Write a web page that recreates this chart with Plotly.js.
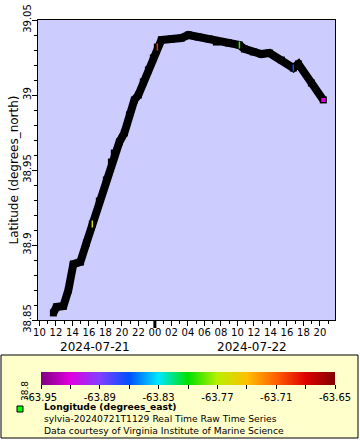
<!DOCTYPE html>
<html>
<head>
<meta charset="utf-8">
<script src="https://cdn.plot.ly/plotly-3.0.1.min.js"></script>
<style>html,body{margin:0;padding:0;background:#fff;}#chart{width:360px;height:440px;}</style>
</head>
<body>
<div id="chart"></div>
<script>
// ---- data ----
const times = [
  '2024-07-21 11:42','2024-07-21 12:04','2024-07-21 12:55','2024-07-21 13:31','2024-07-21 14:07',
  '2024-07-21 14:58','2024-07-21 15:42','2024-07-21 16:25','2024-07-21 17:16','2024-07-21 18:07',
  '2024-07-21 18:44','2024-07-21 19:05','2024-07-21 19:42','2024-07-21 20:18','2024-07-21 20:55',
  '2024-07-21 21:31','2024-07-21 22:00','2024-07-21 22:36','2024-07-21 23:13','2024-07-21 23:49',
  '2024-07-22 00:18','2024-07-22 00:47','2024-07-22 02:00','2024-07-22 03:13','2024-07-22 04:04',
  '2024-07-22 05:16','2024-07-22 06:36','2024-07-22 07:27','2024-07-22 08:55','2024-07-22 10:15',
  '2024-07-22 10:51','2024-07-22 11:56','2024-07-22 12:54','2024-07-22 13:53','2024-07-22 15:20',
  '2024-07-22 16:47','2024-07-22 17:24','2024-07-22 18:58','2024-07-22 20:25'
];
const latitude = [
  38.8547,38.8587,38.8593,38.8700,38.8873,38.8887,38.9013,38.9140,38.9293,38.9433,
  38.9553,38.9613,38.9687,38.9747,38.9867,38.9967,39.0000,39.0087,39.0167,39.0247,
  39.0320,39.0367,39.0373,39.0380,39.0400,39.0387,39.0373,39.0353,39.0347,39.0333,
  39.0307,39.0287,39.0273,39.0280,39.0233,39.0180,39.0207,39.0080,38.9967
];
const longitude = [
  -63.800,-63.797,-63.792,-63.788,-63.782,-63.776,-63.768,-63.758,-63.752,-63.745,
  -63.740,-63.736,-63.730,-63.725,-63.720,-63.715,-63.711,-63.707,-63.703,-63.699,
  -63.695,-63.700,-63.712,-63.725,-63.735,-63.745,-63.755,-63.765,-63.778,-63.790,
  -63.798,-63.808,-63.818,-63.828,-63.845,-63.862,-63.872,-63.895,-63.920
];
const visibleIdx = [7, 20, 29, 35, 38];   // samples whose colour shows through
const lonTickVals = [-63.95,-63.92,-63.89,-63.86,-63.83,-63.80,-63.77,-63.74,-63.71,-63.68,-63.65];
const lonTickText = ['-63.95','','-63.89','','-63.83','','-63.77','','-63.71','','-63.65'];
const latTickVals = [38.85, 38.9, 38.95, 39, 39.05];
const latTickText = ['38.85','38.9','38.95','39','39.05'];

// ---- layout helpers (pixel -> paper) ----
const L = 38, R = 335, T = 20, B = 320;
const px = x => (x - L) / (R - L);
const py = y => (B - y) / (B - T);

const rainbow = [
  [0.0,'#800080'],[0.1,'#e000e0'],[0.2,'#8040ff'],[0.3,'#0050ff'],[0.4,'#00e8ff'],
  [0.5,'#00e000'],[0.6,'#b8f000'],[0.7,'#ffc000'],[0.8,'#ff6000'],[0.9,'#e00000'],[1.0,'#800000']
];
const last = visibleIdx.length - 1;

const track = {
  type: 'scatter', mode: 'lines+markers',
  x: times, y: latitude,
  line: {color: '#000', width: 8},
  marker: {symbol: 'square', size: 7, color: '#000'},
  hoverinfo: 'skip', showlegend: false
};

const sel = {
  type: 'scatter', mode: 'markers',
  x: visibleIdx.map(i => times[i]),
  y: visibleIdx.map(i => latitude[i]),
  marker: {
    symbol: visibleIdx.map((i, k) => k === last ? 'square' : 'line-ns-open'),
    size: 5,
    color: visibleIdx.map(i => longitude[i]),
    colorscale: rainbow, cmin: -63.95, cmax: -63.65,
    line: {color: '#000', width: visibleIdx.map((i, k) => k === last ? 1 : 1.5)},
    showscale: true,
    colorbar: {
      orientation: 'h', lenmode: 'pixels', len: 294, thickness: 13,
      x: px(41), xanchor: 'left', y: py(372), yanchor: 'top',
      xpad: 0, ypad: 0, outlinewidth: 0,
      tickmode: 'array', tickvals: lonTickVals, ticktext: lonTickText,
      ticks: 'outside', ticklen: 4, tickcolor: '#000', ticklabelstandoff: -2,
      tickfont: {family: 'DejaVu Sans', size: 10, color: '#000'}
    }
  },
  hoverinfo: 'skip', showlegend: false
};

const font = {family: 'DejaVu Sans', color: '#000'};
const ann = (x, y, text, size, extra) => Object.assign({
  xref: 'paper', yref: 'paper', x: px(x), y: py(y), text: text, showarrow: false,
  xanchor: 'center', yanchor: 'middle', font: Object.assign({size: size}, font)
}, extra || {});

const layout = {
  width: 360, height: 440,
  margin: {l: L, r: 360 - R, t: T, b: 440 - B},
  paper_bgcolor: '#fff', plot_bgcolor: '#ccccff',
  font: {family: 'DejaVu Sans', size: 10, color: '#000'},
  showlegend: false,
  xaxis: {
    type: 'date', range: ['2024-07-21 09:50', '2024-07-22 21:50'],
    dtick: 7200000, tick0: '2024-07-21 00:00', tickformat: '%H',
    ticks: 'outside', ticklen: 5, tickcolor: '#000', tickwidth: 1, ticklabelstandoff: -2,
    minor: {dtick: 3600000, ticks: 'outside', ticklen: 3, tickcolor: '#000'},
    showline: true, linecolor: '#000', linewidth: 1, mirror: true,
    showgrid: false, zeroline: false,
    tickfont: {family: 'DejaVu Sans', size: 10, color: '#000'}
  },
  yaxis: {
    range: [38.85, 39.05],
    tickmode: 'array', tickvals: latTickVals, ticktext: latTickText,
    tickangle: -90, ticklabelstandoff: -3,
    ticks: 'outside', ticklen: 5, tickcolor: '#000',
    minor: {dtick: 0.01, tick0: 38.85, ticks: 'outside', ticklen: 3, tickcolor: '#000'},
    showline: true, linecolor: '#000', linewidth: 1, mirror: true,
    showgrid: false, zeroline: false,
    tickfont: {family: 'DejaVu Sans', size: 10, color: '#000'},
    title: {text: 'Latitude (degrees_north)', font: {family: 'DejaVu Sans', size: 12, color: '#000'}, standoff: 0}
  },
  shapes: [
    {type: 'rect', xref: 'paper', yref: 'paper', x0: px(1), x1: px(358), y0: py(355), y1: py(438),
     fillcolor: '#ffffcc', line: {color: '#000', width: 1}, layer: 'below'},
    {type: 'rect', xref: 'paper', yref: 'paper', x0: px(17), x1: px(23), y0: py(406), y1: py(412),
     fillcolor: '#00ff00', line: {color: '#000', width: 1}},
    {type: 'line', xref: 'x', yref: 'paper', x0: '2024-07-22 00:00', x1: '2024-07-22 00:00',
     y0: 0, y1: py(328), line: {color: '#000', width: 3}}
  ],
  annotations: [
    ann(95, 347, '2024-07-21', 12),
    ann(252, 347, '2024-07-22', 12),
    ann(25, 391, '38.8', 9, {textangle: -90}),
    ann(42, 418.5,
        '<b>Longitude (degrees_east)</b><br>sylvia-20240721T1129 Real Time Raw Time Series<br>Data courtesy of Virginia Institute of Marine Science',
        9.2, {xanchor: 'left', align: 'left'})
  ]
};

Plotly.newPlot('chart', [track, sel], layout, {staticPlot: true, displayModeBar: false});
</script>
</body>
</html>
